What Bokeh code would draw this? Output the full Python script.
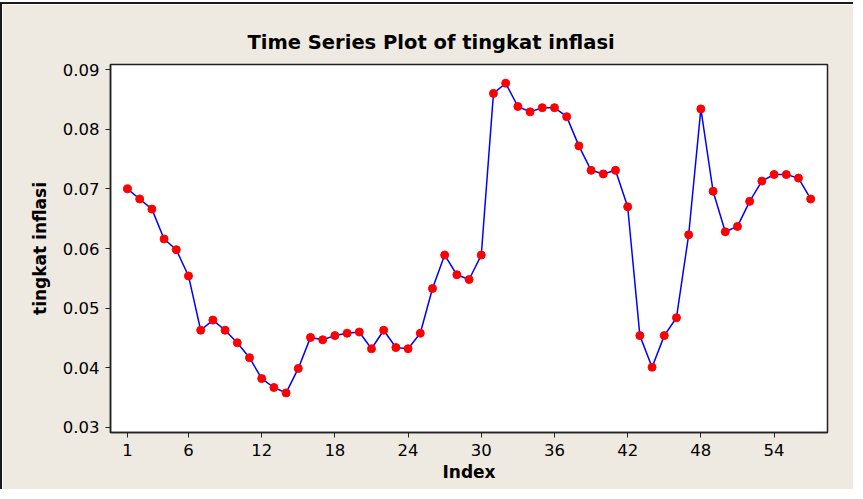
from bokeh.plotting import figure
from bokeh.models import FixedTicker, Range1d, Title, PrintfTickFormatter
from bokeh.embed import file_html
from bokeh.resources import INLINE

index = list(range(1, 58))
inflasi = [0.0700, 0.0683, 0.0666, 0.0616, 0.0598, 0.0554, 0.0463, 0.0480, 0.0463, 0.0442,
           0.0417, 0.0382, 0.0367, 0.0358, 0.0399, 0.0451, 0.0447, 0.0454, 0.0458, 0.0460,
           0.0432, 0.0463, 0.0434, 0.0432, 0.0458, 0.0533, 0.0589, 0.0556, 0.0548, 0.0589,
           0.0860, 0.0877, 0.0838, 0.0829, 0.0836, 0.0836, 0.0821, 0.0772, 0.0731, 0.0725,
           0.0731, 0.0670, 0.0454, 0.0401, 0.0454, 0.0484, 0.0623, 0.0834, 0.0696, 0.0628,
           0.0637, 0.0679, 0.0713, 0.0724, 0.0724, 0.0718, 0.0683]
x_ticks = [1, 6, 12, 18, 24, 30, 36, 42, 48, 54]
y_ticks = [0.03, 0.04, 0.05, 0.06, 0.07, 0.08, 0.09]

BG = "#EEEAE1"
FONT = "DejaVu Sans"

p = figure(width=853, height=487, output_backend="svg", toolbar_location=None,
           x_range=Range1d(-0.393, 58.38), y_range=Range1d(0.02916, 0.09084),
           min_border_left=108, min_border_top=60, min_border_right=28, min_border_bottom=59)
p.styles = {"border-top": "2px solid #1a1a1a", "border-left": "2px solid #1a1a1a", "margin-top": "2px"}

p.background_fill_color = "white"
p.border_fill_color = BG
p.outline_line_color = "#222222"
p.outline_line_width = 1.5
p.grid.visible = False

p.title = Title(text="Time Series Plot of tingkat inflasi", align="left", offset=137, standoff=22,
                text_font=FONT, text_font_size="19.5px", text_font_style="bold", text_color="black")

for ax in (p.xaxis[0], p.yaxis[0]):
    ax.axis_line_color = "#222222"
    ax.axis_line_width = 1.5
    ax.major_tick_in = 0
    ax.major_tick_out = 5
    ax.major_tick_line_color = "#222222"
    ax.minor_tick_line_color = None
    ax.major_label_text_font = FONT
    ax.major_label_text_font_size = "16.5px"
    ax.major_label_text_color = "black"
    ax.axis_label_text_font = FONT
    ax.axis_label_text_font_size = "17px"
    ax.axis_label_text_font_style = "bold"
    ax.axis_label_text_color = "black"

p.xaxis.ticker = FixedTicker(ticks=x_ticks)
p.yaxis.ticker = FixedTicker(ticks=y_ticks)
p.yaxis.formatter = PrintfTickFormatter(format="%.2f")
p.xaxis.axis_label = "Index"
p.yaxis.axis_label = "tingkat inflasi"
p.xaxis.major_label_standoff = 6
p.yaxis.major_label_standoff = 6
p.xaxis.axis_label_standoff = 3
p.yaxis.axis_label_standoff = 10

p.line(index, inflasi, line_color="#0000FF", line_width=1.5)
p.scatter(index, inflasi, size=8, fill_color="#FF0000", line_color="#FF0000")

open("out.html", "w").write(file_html(p, INLINE))
